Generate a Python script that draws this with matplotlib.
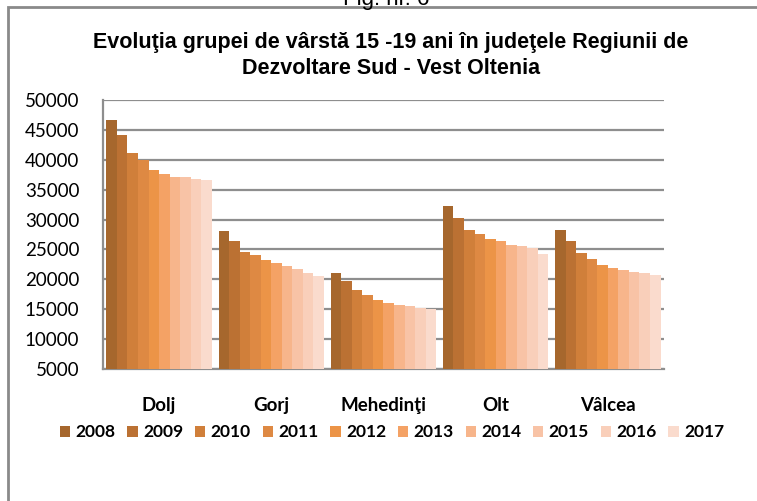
import numpy as np
import matplotlib
matplotlib.use("Agg")
import matplotlib.pyplot as plt
from matplotlib.patches import Rectangle

# data
counties = ["Dolj", "Gorj", "Mehedinţi", "Olt", "Vâlcea"]
years = ["2008", "2009", "2010", "2011", "2012", "2013", "2014", "2015", "2016", "2017"]
dolj = [46700, 44200, 41100, 39900, 38200, 37600, 37100, 37100, 36700, 36600]
gorj = [28100, 26400, 24600, 24100, 23200, 22700, 22200, 21700, 21100, 20600]
mehedinti = [21100, 19700, 18200, 17400, 16600, 16100, 15700, 15600, 15200, 15100]
olt = [32200, 30200, 28200, 27600, 26700, 26400, 25700, 25600, 25200, 24200]
valcea = [28200, 26400, 24400, 23400, 22400, 21900, 21600, 21200, 21100, 20700]
colors = ["#a6672d", "#bb7133", "#d07f3a", "#de8943", "#ec9447",
          "#f4a265", "#f7b58b", "#f8c3a6", "#f9cfba", "#fadbcd"]

values = np.array([dolj, gorj, mehedinti, olt, valcea])

fig = plt.figure(figsize=(7.57, 5.01), dpi=100)
ax = fig.add_axes([0.136, 0.2635, 0.741, 0.537])

x = np.arange(len(counties))
w = 0.094
for i, yr in enumerate(years):
    ax.bar(x - 4.5 * w + i * w, values[:, i] - 5000, bottom=5000, width=w,
           color=colors[i], label=yr, zorder=3)

ax.set_ylim(5000, 50000)
ax.set_xlim(-0.5, 4.5)
ax.set_yticks(range(5000, 50001, 5000))
ax.yaxis.grid(True, color="#8e8e8e", linewidth=1.6, zorder=0)
ax.set_xticks(x)
ax.set_xticklabels(counties, fontfamily="Lato", fontweight="bold", fontsize=13.5)
for lbl in ax.get_yticklabels():
    lbl.set_fontfamily("Lato")
    lbl.set_fontsize(13.5)
ax.tick_params(axis="y", length=0, pad=17)
ax.tick_params(axis="x", length=0, pad=20)
for s in ["top", "right"]:
    ax.spines[s].set_visible(False)
ax.spines["left"].set_color("#8e8e8e")
ax.spines["left"].set_linewidth(1.6)
ax.spines["bottom"].set_color("#8e8e8e")
ax.spines["bottom"].set_linewidth(1.6)

fig.text(0.516, 0.889, "Evoluţia grupei de vârstă 15 -19 ani în judeţele Regiunii de\nDezvoltare Sud - Vest Oltenia",
         ha="center", va="center", fontsize=15.5, fontweight="bold",
         fontfamily="Liberation Sans", linespacing=1.3)
fig.text(0.51, 1.0, "Fig. nr. 6", ha="center", va="center", fontsize=16,
         fontfamily="Liberation Sans")

fig.legend(loc="center", bbox_to_anchor=(0.518, 0.137), ncol=10,
           frameon=False, handlelength=0.6, handleheight=0.6,
           handletextpad=0.3, columnspacing=0.68,
           prop={"family": "Lato", "weight": "bold", "size": 12.5})

fig.patches.append(Rectangle((8 / 757, -0.1), 1.2, 1.1 - 7 / 501,
                             transform=fig.transFigure, fill=False,
                             edgecolor="#8a8a8a", linewidth=2))

fig.savefig("out.png", dpi=100)
